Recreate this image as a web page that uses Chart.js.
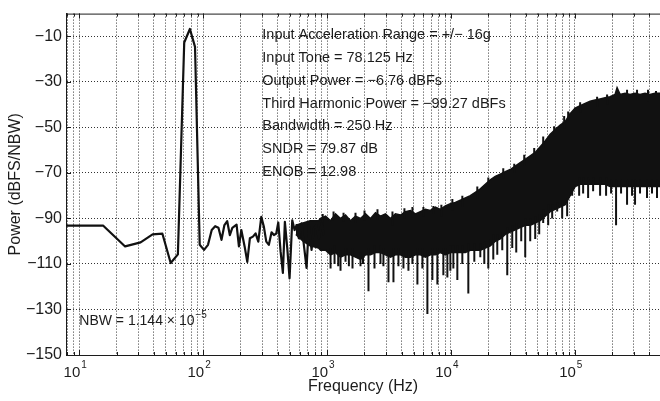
<!DOCTYPE html>
<html>
<head>
<meta charset="utf-8">
<script src="https://cdn.jsdelivr.net/npm/chart.js@4.4.0/dist/chart.umd.min.js"></script>
<style>
  html, body { margin: 0; padding: 0; background: #fff; overflow: hidden; }
  #wrap { width: 660px; height: 401px; position: relative; }
</style>
</head>
<body>
<div id="wrap"><canvas id="psd"></canvas></div>
<script>
// ---- values ----

// single FFT bins up to ~1 kHz (Hz, dBFS/NBW)
const lowF = [7.8125, 15.625, 23.4375, 31.25, 39.0625, 46.875, 54.6875, 62.5, 70.3125, 78.125, 85.9375, 93.75,
  101.6, 109.4, 117.2, 125, 132.8, 140.6, 148.4, 156.3, 164.1, 171.9, 186, 194.3, 203.2, 216, 227, 238.3,
  252, 264.9, 278.6, 294.5, 309.1, 323.1, 339, 356.5, 372.2, 389, 403.8, 421.5, 439.9, 456.5, 477.3, 498.1,
  523.7, 546.7, 567.2, 591.9, 622.4, 649.6, 683, 712.7, 749.6, 782.2, 818, 858, 902, 941.7];
const lowP = [-93.2, -93.2, -102.3, -100.5, -97, -96.7, -109.6, -105.8, -12.7, -6.76, -14.6, -101.6,
  -103.8, -101.6, -95.1, -93.4, -94.1, -99.4, -92.9, -91.2, -97.3, -94.1, -92.7, -102.3, -95.1, -102.3, -109.1, -98.7,
  -98, -96.6, -100.2, -89.3, -93.7, -100.2, -101.6, -96.1, -97.3, -96.6, -91.8, -104.5, -113.9, -91.5, -103.1, -116.3,
  -90.8, -95.1, -92.9, -98.7, -92.2, -101.6, -111.7, -92.9, -103.8, -94.4, -92.9, -98.7, -92.2, -97.3];

// dense noise above ~550 Hz: top and bottom edge of the black band
const bandF = [560, 640, 730, 854, 886, 972, 1067, 1170, 1284, 1409, 1546, 1696, 1861, 2042, 2241, 2459, 2698, 2960, 3248,
  3563, 3910, 4290, 4707, 5164, 5666, 6217, 6822, 7485, 8212, 9011, 9887, 10848, 11903, 13060, 14330,
  15723, 17251, 18928, 20768, 22787, 25002, 27432, 30099, 33025, 36235, 39757, 43622, 47862, 52515,
  57620, 63222, 69367, 76111, 83509, 91627, 100534, 110307, 121030, 132795, 145703, 159867, 175407,
  192458, 211167, 219149, 231694, 254217, 278929, 306043, 335793, 368435, 404250, 443546, 486662];
const bandHi = [-93, -92, -91, -91, -90, -89, -91, -88, -90, -88.5, -91, -89, -90, -88, -90, -87.5, -89, -88, -90,
  -88, -88.5, -87, -86.5, -88, -87, -86, -86.5, -85, -86, -84.5, -83.5, -83, -82, -81, -80,
  -78.5, -77, -75, -73, -71.5, -70.5, -69.5, -68.5, -67, -65.5, -64, -62.5, -61, -58.5,
  -56, -53, -51, -49, -47.5, -44, -41.5, -40.5, -39.5, -38.5, -38, -37.5, -37,
  -36.5, -35.5, -32.5, -35.5, -35, -35.5, -35, -35.5, -35, -35.5, -35, -35];
const bandLo = [-97, -100, -102, -103, -104, -104, -106, -105, -107, -106, -106, -107, -108, -106, -106, -105, -105, -106, -107,
  -106, -106, -107, -107, -106, -106, -107, -106, -106, -105, -106, -105, -105, -105, -105, -104,
  -104, -104, -103, -102, -100, -99, -97, -96, -95, -94, -93, -93, -92, -91,
  -89, -87, -86, -85, -84, -80, -76, -75, -75, -75, -75, -75, -75,
  -76, -76, -76, -76, -76, -76, -76, -76, -76, -76, -76, -76];

// downward spikes below the band
const spikeF = [1067, 1149, 1230, 1284, 1409, 1500, 1604, 1861, 1950, 2159, 2414, 2698, 2850, 3130, 3434, 3767, 4134, 4536, 4885,
  5359, 5880, 6452, 7080, 7768, 8683, 9352, 9887, 10454, 11258, 12353, 13808, 15435, 17251, 18581,
  20013, 21958, 23648, 25947, 28469, 31237, 33643, 36913, 39757, 43622, 47862, 51552, 55524, 60922,
  65612, 71989, 78988, 86666, 95091, 108285, 116628, 127965, 140404, 159867, 178687, 196057, 215116,
  236027, 263826, 289473, 306043, 335793, 382362, 419531, 460312];
const spikeP = [-112, -110, -111, -113, -109, -111, -112, -111, -110, -122, -112, -110, -111, -118, -118, -111, -112, -113, -110,
  -119, -112, -132, -117, -119, -115, -116, -113, -112, -117, -110, -123, -109, -107, -110,
  -112, -108, -106, -104, -115, -103, -105, -100, -107, -100, -99, -97, -92, -93,
  -90, -87, -90, -89, -80, -80, -79, -81, -78, -80, -80, -79, -93,
  -79, -84, -80, -84, -79, -81, -79, -81];

// small upward spikes on the top edge of the band
const peakF = [922, 1128, 1358, 1696, 2005, 2552, 3371, 4211, 4885, 5991, 7213, 8366, 10261, 12353, 16317,
  20013, 26434, 32419, 39029, 46985, 55524, 68097, 81979, 88294, 110307, 151211, 182037, 263826,
  317612, 389546, 451840];
const peakP = [-88, -87, -87.5, -87.5, -86.5, -86, -87, -85.5, -85, -85, -84.5, -84, -81.5, -80, -76,
  -72, -68, -66, -62, -59, -54, -49.5, -45, -43, -39, -36.5, -35.5, -33.5,
  -33.5, -33.5, -34];

const xMin = 7.8125;
const xMax = 486662;
const yTicks = [-150, -130, -110, -90, -70, -50, -30, -10];
const decades = [1, 2, 3, 4, 5];

const notes = [
  'Input Acceleration Range = +/\u2212 16g',
  'Input Tone = 78.125 Hz',
  'Output Power = \u22126.76 dBFs',
  'Third Harmonic Power = \u221299.27 dBFs',
  'Bandwidth = 250 Hz',
  'SNDR = 79.87 dB',
  'ENOB = 12.98'
];

// ---- helpers ----
const FONT = "'Liberation Sans', Arial, Helvetica, sans-serif";
const INK = '#1c1c1c';

const xTicks = [];
for (let e = 0; e <= 5; e++) {
  for (let m = 1; m <= 9; m++) {
    const v = m * Math.pow(10, e);
    if (v >= xMin && v <= xMax) xTicks.push(v);
  }
}

const pts = (fs, ps) => fs.map((f, i) => ({ x: f, y: ps[i] }));

const nearestBand = (f) => {
  let best = 0;
  for (let i = 1; i < bandF.length; i++) {
    if (Math.abs(Math.log(bandF[i] / f)) < Math.abs(Math.log(bandF[best] / f))) best = i;
  }
  return best;
};

// each spike is a short vertical stroke starting inside the band
const spikeData = [];
spikeF.forEach((f, i) => {
  const k = nearestBand(f);
  spikeData.push({ x: f, y: bandLo[k] + 3 }, { x: f, y: spikeP[i] }, { x: f, y: null });
});
peakF.forEach((f, i) => {
  const k = nearestBand(f);
  spikeData.push({ x: f, y: bandHi[k] - 3 }, { x: f, y: peakP[i] }, { x: f, y: null });
});

/**
 * Matlab-ish frame: top border, inward ticks, 10^n labels, text annotations
 */
const frame = {
  id: 'frame',
  afterDraw(chart) {
    const { ctx, chartArea: a, scales: { x, y } } = chart;
    ctx.save();
    ctx.strokeStyle = INK;
    ctx.lineWidth = 1;

    // top border
    ctx.beginPath();
    ctx.moveTo(a.left, a.top + 0.5);
    ctx.lineTo(a.right, a.top + 0.5);
    ctx.stroke();

    // inward ticks
    ctx.beginPath();
    xTicks.forEach((v) => {
      const px = Math.round(x.getPixelForValue(v)) + 0.5;
      const major = Math.abs(Math.log10(v) % 1) < 1e-9;
      const len = major ? 5 : 3;
      ctx.moveTo(px, a.bottom);
      ctx.lineTo(px, a.bottom - len);
      ctx.moveTo(px, a.top);
      ctx.lineTo(px, a.top + len);
    });
    yTicks.forEach((v) => {
      const py = Math.round(y.getPixelForValue(v)) + 0.5;
      ctx.moveTo(a.left, py);
      ctx.lineTo(a.left + 5, py);
    });
    ctx.stroke();

    // 10^n labels
    ctx.fillStyle = INK;
    ctx.textBaseline = 'alphabetic';
    decades.forEach((e) => {
      const px = x.getPixelForValue(Math.pow(10, e));
      ctx.font = '15px ' + FONT;
      ctx.textAlign = 'right';
      ctx.fillText('10', px + 1, a.bottom + 22);
      ctx.font = '10px ' + FONT;
      ctx.textAlign = 'left';
      ctx.fillText(String(e), px + 2, a.bottom + 13);
    });

    // annotations
    ctx.font = '14.5px ' + FONT;
    ctx.textAlign = 'left';
    ctx.textBaseline = 'middle';
    const nx = x.getPixelForValue(300);
    notes.forEach((t, i) => {
      ctx.fillText(t, nx, y.getPixelForValue(-9.5 - 10 * i));
    });

    const bx = x.getPixelForValue(10);
    const by = y.getPixelForValue(-135);
    const base = 'NBW = 1.144 \u00d7 10';
    ctx.font = '14px ' + FONT;
    ctx.fillText(base, bx, by);
    const w = ctx.measureText(base).width;
    ctx.font = '10px ' + FONT;
    ctx.fillText('\u22125', bx + w + 1, by - 6);

    ctx.restore();
  }
};

const ctx = document.getElementById('psd');

new Chart(ctx, {
  type: 'line',
  data: {
    datasets: [
      {
        data: pts(lowF, lowP),
        borderColor: '#111',
        borderWidth: 2.2,
        borderJoinStyle: 'round',
        pointRadius: 0,
        tension: 0,
        fill: false
      },
      {
        data: spikeData,
        borderColor: '#111',
        borderWidth: 2,
        pointRadius: 0,
        spanGaps: false,
        fill: false
      },
      {
        data: pts(bandF, bandHi),
        borderColor: '#111',
        borderWidth: 1.5,
        pointRadius: 0,
        tension: 0,
        fill: false
      },
      {
        data: pts(bandF, bandLo),
        borderColor: '#111',
        borderWidth: 1.5,
        backgroundColor: '#111',
        pointRadius: 0,
        tension: 0,
        fill: '-1'
      }
    ]
  },
  options: {
    responsive: true,
    maintainAspectRatio: false,
    animation: false,
    events: [],
    layout: { padding: { top: 10, right: 0, left: 0, bottom: 0 } },
    plugins: {
      legend: { display: false },
      tooltip: { enabled: false }
    },
    scales: {
      x: {
        type: 'logarithmic',
        min: xMin,
        max: xMax,
        afterBuildTicks: (scale) => { scale.ticks = xTicks.map((v) => ({ value: v })); },
        afterFit: (scale) => { scale.height = 46; },
        ticks: { display: false },
        grid: { color: '#333', lineWidth: 1, drawTicks: false },
        border: { display: true, color: INK, width: 1, dash: [1, 2] },
        title: {
          display: true,
          text: 'Frequency (Hz)',
          color: INK,
          font: { family: FONT, size: 16 },
          padding: { top: 0, bottom: 5 }
        }
      },
      y: {
        min: -150,
        max: 0,
        afterBuildTicks: (scale) => { scale.ticks = yTicks.map((v) => ({ value: v })); },
        afterFit: (scale) => { scale.width = 66; },
        ticks: {
          color: INK,
          padding: 4,
          font: { family: FONT, size: 16 },
          callback: (v) => String(v).replace('-', '\u2212')
        },
        grid: { color: '#333', lineWidth: 1, drawTicks: false },
        border: { display: true, color: INK, width: 1, dash: [1, 2] },
        title: {
          display: true,
          text: 'Power (dBFS/NBW)',
          color: INK,
          font: { family: FONT, size: 16 },
          padding: { top: 6, bottom: 0 }
        }
      }
    }
  },
  plugins: [frame]
});
</script>
</body>
</html>
